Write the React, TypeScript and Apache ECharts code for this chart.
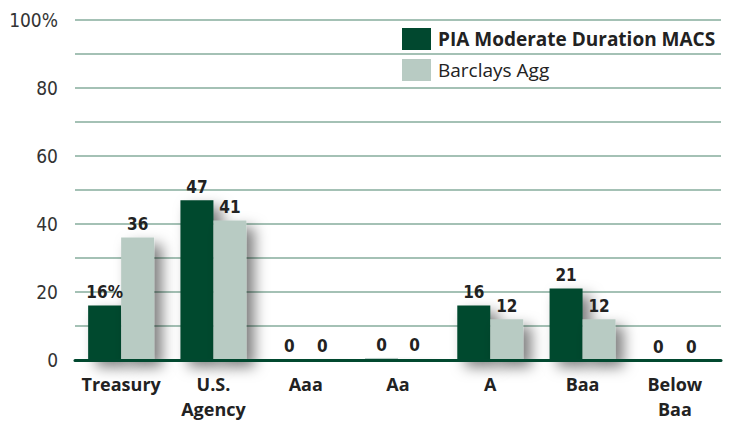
import React, { useEffect, useRef } from "react";
import * as echarts from "echarts";

const categories = ["Treasury", "U.S.\nAgency", "Aaa", "Aa", "A", "Baa", "Below\nBaa"];
const piaValues = [16, 47, 0.1, 0.4, 16, 21, 0];
const barclaysValues = [36, 41, 0.2, 0.3, 12, 12, 0];
const seriesNames = ["PIA Moderate Duration MACS", "Barclays Agg"];
const yTicks = [0, 20, 40, 60, 80, 100];

const DARK = "#01482f";
const LIGHT = "#b8cbc3";
const GRIDLINE = "#86ad9c";
const NARROW = "'Liberation Sans Narrow', 'DejaVu Sans Condensed', 'Roboto', sans-serif";
const HUMAN = "'Open Sans', 'Noto Sans', sans-serif";

export default function App() {
  const ref = useRef<HTMLDivElement>(null);
  useEffect(() => {
    if (!ref.current) return;
    const chart = echarts.init(ref.current, null, { renderer: "svg" });
    const shadow = {
      shadowBlur: 14,
      shadowOffsetX: 8,
      shadowOffsetY: 7,
      shadowColor: "rgba(0,0,0,0.5)",
    };
    const label = (pct: boolean) => ({
      show: true,
      position: "top" as const,
      distance: 5,
      fontFamily: NARROW,
      fontWeight: "bold" as const,
      fontSize: 17,
      color: "#222",
      formatter: (p: any) => {
        const v = Math.round(p.value);
        return pct && p.dataIndex === 0 ? v + "%" : String(v);
      },
    });
    chart.setOption({
      animation: false,
      backgroundColor: "#fff",
      grid: { left: 75, right: 8, top: 20, bottom: 64 },
      legend: {
        orient: "vertical",
        left: 397,
        top: 23,
        itemWidth: 29,
        itemHeight: 22,
        itemGap: 9,
        icon: "rect",
        selectedMode: false,
        textStyle: { fontFamily: HUMAN, fontSize: 19, color: "#222", padding: [0, 0, 0, 2] },
        data: [
          { name: seriesNames[0], textStyle: { fontWeight: "bold" } },
          { name: seriesNames[1], textStyle: { fontWeight: "normal" } },
        ],
      },
      xAxis: {
        type: "category",
        data: categories,
        axisLine: { show: true, lineStyle: { color: DARK, width: 3 } },
        axisTick: { show: false },
        axisLabel: {
          fontFamily: HUMAN,
          fontWeight: "bold",
          fontSize: 18,
          color: "#222",
          lineHeight: 25,
          margin: 11,
          interval: 0,
        },
        z: 10,
      },
      yAxis: {
        type: "value",
        min: 0,
        max: 100,
        interval: 10,
        axisLine: { show: false },
        axisTick: { show: false },
        axisLabel: {
          fontFamily: NARROW,
          fontSize: 19,
          color: "#333",
          margin: 17,
          formatter: (v: number) =>
            yTicks.includes(v) ? (v === 100 ? v + "%" : String(v)) : "",
        },
        splitLine: { show: true, lineStyle: { color: GRIDLINE, width: 1.5 } },
      },
      series: [
        {
          name: seriesNames[0],
          type: "bar",
          data: piaValues,
          barWidth: 33,
          barGap: "0%",
          itemStyle: { color: DARK, ...shadow },
          label: label(true),
        },
        {
          name: seriesNames[1],
          type: "bar",
          data: barclaysValues,
          barWidth: 33,
          itemStyle: { color: LIGHT, ...shadow },
          label: label(false),
        },
      ],
    });
    return () => chart.dispose();
  }, []);
  return (
    <div
      ref={ref}
      style={{ position: "fixed", left: 0, top: 0, width: 729, height: 424, overflow: "visible" }}
    />
  );
}
